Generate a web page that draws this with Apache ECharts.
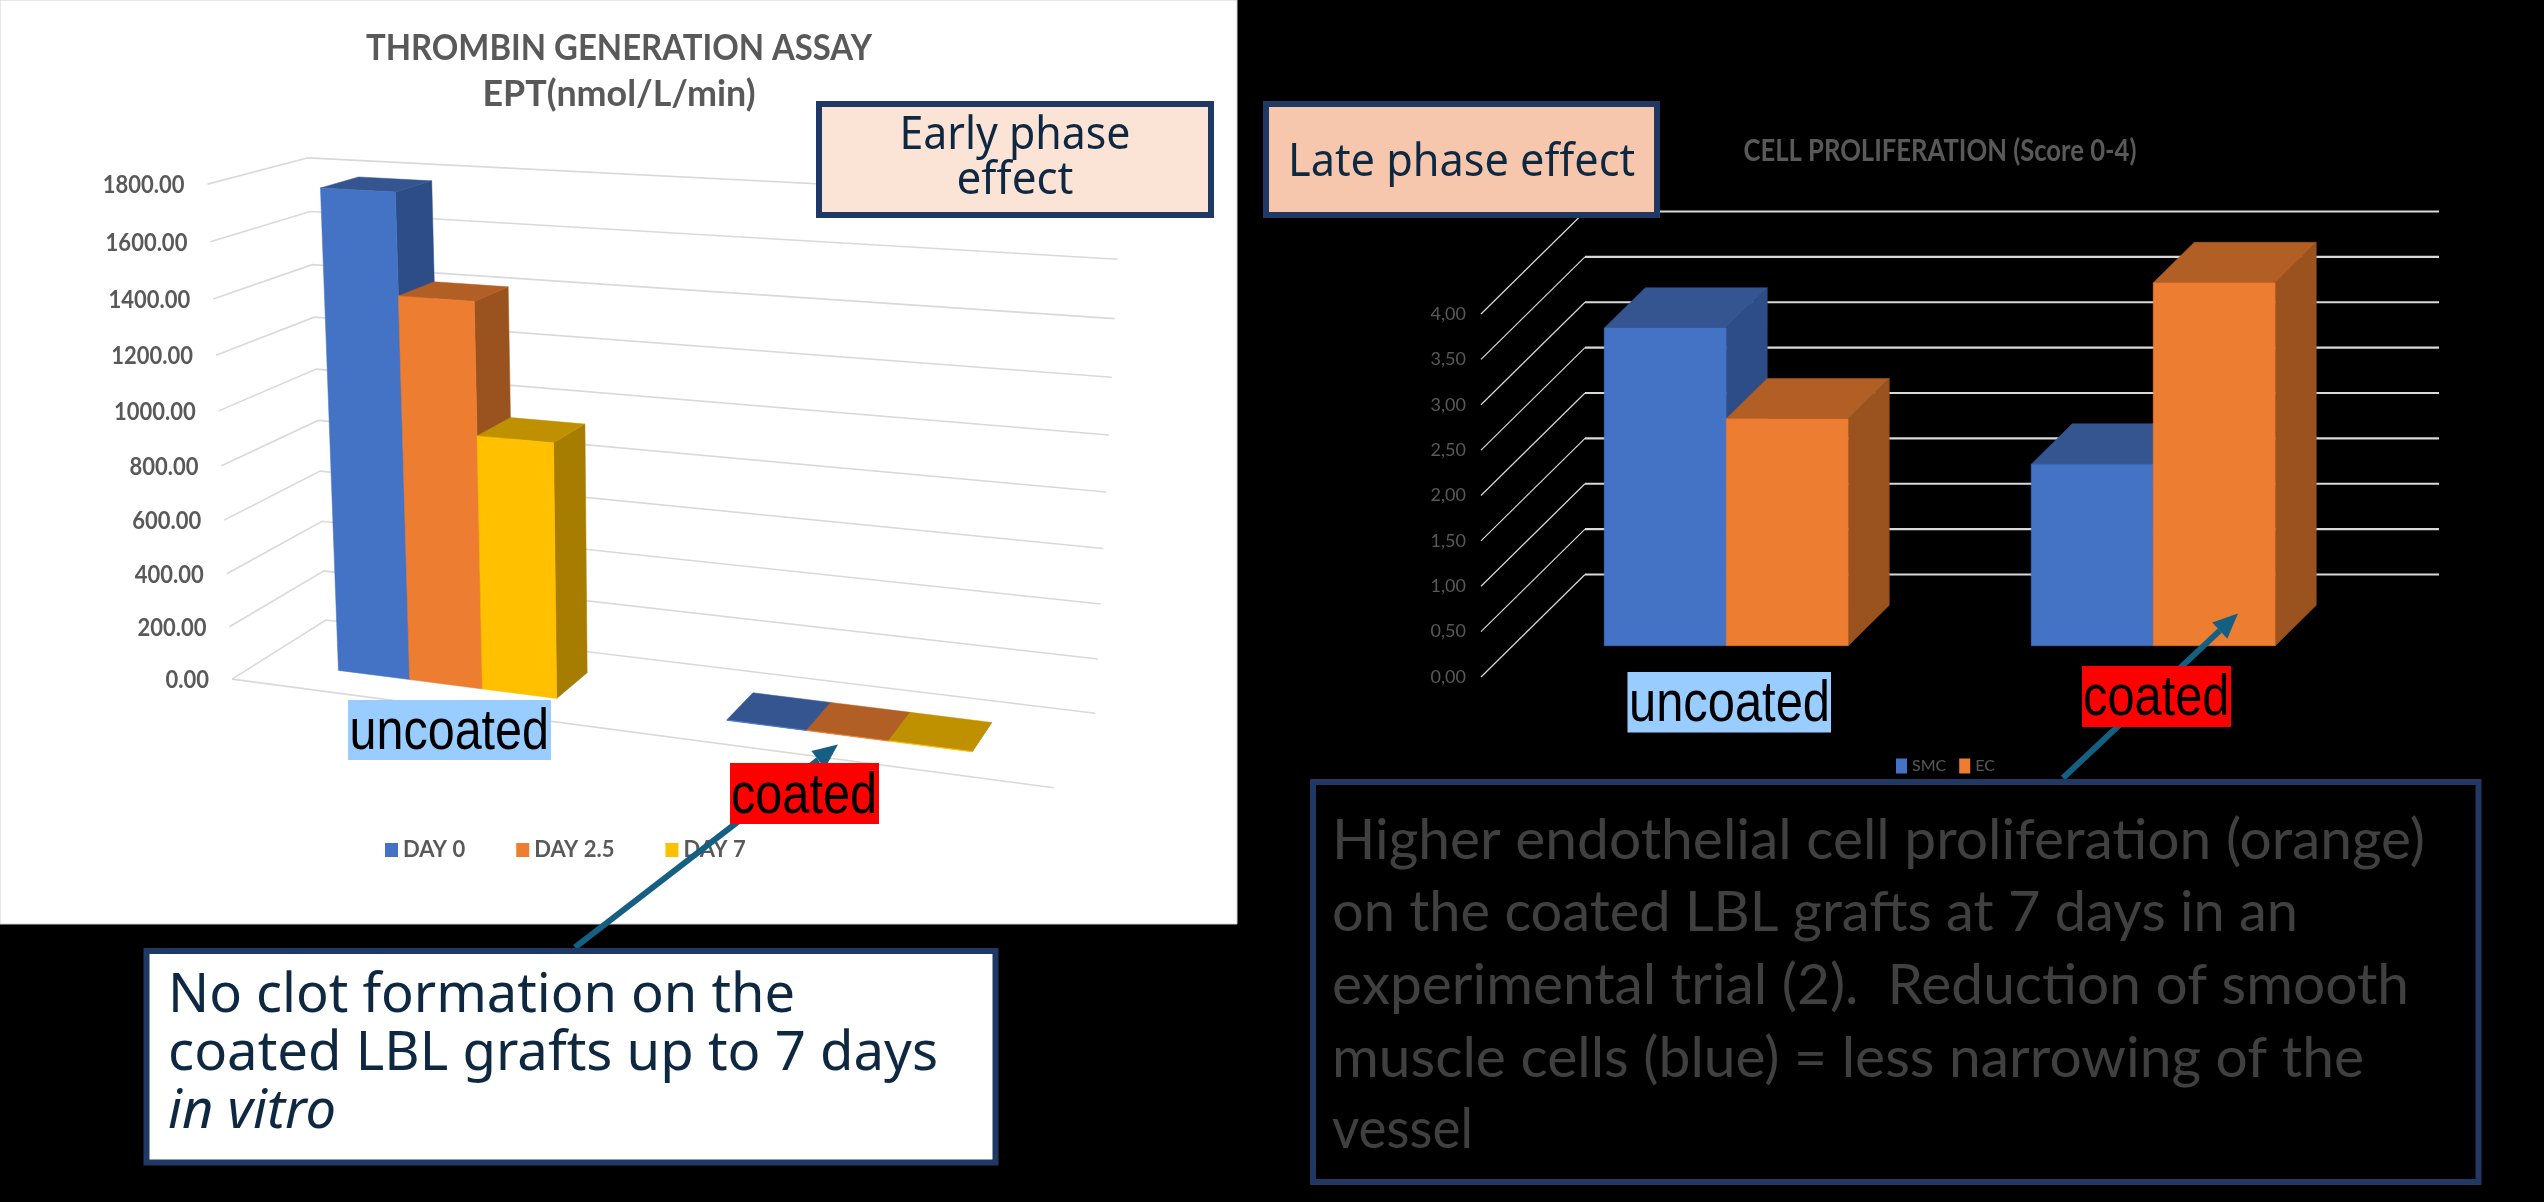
<!DOCTYPE html>
<html><head><meta charset="utf-8"><style>html,body{margin:0;padding:0;background:#000}#c{width:2544px;height:1202px}</style>
<script src="https://cdn.jsdelivr.net/npm/echarts@6/dist/echarts.min.js"></script></head><body><div id="c"></div>
<script>
const categories=['uncoated','coated'];
const day0=[1773,2];
const day25=[1411,2];
const day7=[935,2];
const dayNames=['DAY 0','DAY 2.5','DAY 7'];
const leftTicks=[0,200,400,600,800,1000,1200,1400,1600,1800];
const smc=[3.5,2.0];
const ec=[2.5,4.0];
const cellNames=['SMC','EC'];
const rightTicks=[0,0.5,1,1.5,2,2.5,3,3.5,4];

// ---- projection of the left chart, calibrated on its box corners
const calib=[[0,0,0,232,678.8],[0,1,0,207.5,184.4],[0,0,1,326,620.3],[0,1,1,308.2,157.6],[1,0,1,1095,713.5],[1,1,1,1120.6,199.3],[1,0,0,1054,787.7],[0,.5556,0,218.6,411],[0,.5556,1,316.1,368.9],[1,.5556,1,1108.7,434.8]];
function solve(A,b){const n=b.length;for(let i=0;i<n;i++){let p=i;for(let r=i+1;r<n;r++)if(Math.abs(A[r][i])>Math.abs(A[p][i]))p=r;[A[i],A[p]]=[A[p],A[i]];[b[i],b[p]]=[b[p],b[i]];for(let r=i+1;r<n;r++){const f=A[r][i]/A[i][i];for(let c=i;c<n;c++)A[r][c]-=f*A[i][c];b[r]-=f*b[i];}}const x=Array(n).fill(0);for(let i=n-1;i>=0;i--){let s=b[i];for(let c=i+1;c<n;c++)s-=A[i][c]*x[c];x[i]=s/A[i][i];}return x;}
const M=(function(){const rows=[],rhs=[];calib.forEach(([U,V,W,x,y])=>{x/=1000;y/=1000;rows.push([U,V,W,1,0,0,0,0,-x*U,-x*V,-x*W]);rhs.push(x);rows.push([0,0,0,0,U,V,W,1,-y*U,-y*V,-y*W]);rhs.push(y);});const A=[],b=[];for(let i=0;i<11;i++){A.push(Array(11).fill(0));b.push(0);for(let j=0;j<11;j++)rows.forEach(r=>A[i][j]+=r[i]*r[j]);rows.forEach((r,k)=>b[i]+=r[i]*rhs[k]);}return solve(A,b);})();
function projL(u,v,w){const d=M[8]*u+M[9]*v+M[10]*w+1;return [1000*(M[0]*u+M[1]*v+M[2]*w+M[3])/d,1000*(M[4]*u+M[5]*v+M[6]*w+M[7])/d];}
function projR(u,v,w){return [1481+854*u+104*w,314+363*(1-v)-102.5*w];}

const GL={left:232,top:184,width:822,height:495};
const GR={left:1481,top:314,width:854,height:363};

function barSeries(name,values,idx,count,cfg){
  return {type:'custom',name,xAxisIndex:cfg.axis,yAxisIndex:cfg.axis,z:5+idx,clip:false,itemStyle:{color:cfg.colors[idx][0]},
    data:values.map((v,i)=>[i,v]),
    renderItem(params,api){
      const c=api.coord([api.value(0),api.value(1)]),band=api.size([1,0])[0],bw=band*cfg.barFrac;
      const g=cfg.grid,v=(g.top+g.height-c[1])/g.height;
      const x0=c[0]+(idx-count/2)*bw-g.left,x1=x0+bw;
      const P=(x,vv,w)=>cfg.proj(x/g.width,vv,w);
      const [a,b]=cfg.depth,col=cfg.colors[idx];
      const poly=(pts,fill)=>({type:'polygon',shape:{points:pts},style:{fill,stroke:fill,lineWidth:.5}});
      return {type:'group',children:[
        poly([P(x1,0,a),P(x1,0,b),P(x1,v,b),P(x1,v,a)],col[2]),
        poly([P(x0,v,a),P(x1,v,a),P(x1,v,b),P(x0,v,b)],col[1]),
        poly([P(x0,0,a),P(x1,0,a),P(x1,v,a),P(x0,v,a)],col[0])
      ]};
    }};
}
const lineCol='#D9D9D9',labCol='#595959';
const coloursL=[['#4472C4','#355591','#2D4D88'],['#ED7D31','#B25F25','#9A521E'],['#FFC000','#BF9000','#A67D00']];
const coloursR=[coloursL[0],coloursL[1]];
const cfgL={axis:0,grid:GL,proj:projL,barFrac:.192,depth:[.3,.7],colors:coloursL};
const cfgR={axis:1,grid:GR,proj:projR,barFrac:1/3.5,depth:[.305,.7],colors:coloursR};

const gridL={type:'custom',name:'gridL',xAxisIndex:0,yAxisIndex:0,z:2,clip:false,silent:true,data:leftTicks.map(t=>[0,t]),
  renderItem(params,api){
    const t=api.value(1),c=api.coord([0,t]),v=(GL.top+GL.height-c[1])/GL.height;
    const f=projL(0,v,0),b=projL(0,v,1),r=projL(1,v,1);
    const kids=[{type:'polyline',shape:{points:[f,b,r]},style:{stroke:lineCol,lineWidth:1.6,fill:null}},
      {type:'text',scaleY:1.1,x:f[0]-23,y:f[1]+1,style:{text:t.toFixed(2),fill:labCol,font:'700 22px Lato',align:'right',verticalAlign:'middle'}}];
    if(t===0)kids.push({type:'line',shape:{x1:f[0],y1:f[1],x2:projL(1,0,0)[0],y2:projL(1,0,0)[1]},style:{stroke:lineCol,lineWidth:1.6}});
    return {type:'group',children:kids};
  }};
const gridR={type:'custom',name:'gridR',xAxisIndex:1,yAxisIndex:1,z:2,clip:false,silent:true,data:rightTicks.map(t=>[0,t]),
  renderItem(params,api){
    const t=api.value(1),c=api.coord([0,t]),v=(GR.top+GR.height-c[1])/GR.height;
    const f=projR(0,v,0),b=projR(0,v,1),r=[2439,b[1]];
    return {type:'group',children:[{type:'line',shape:{x1:f[0],y1:f[1],x2:b[0],y2:b[1]},style:{stroke:lineCol,lineWidth:1.2}},
      {type:'line',shape:{x1:b[0],y1:b[1],x2:r[0],y2:r[1]},style:{stroke:lineCol,lineWidth:2.2}}]};
  }};

// ---- annotations
const mc=document.createElement('canvas').getContext('2d');
function txt(text,x,cy,width,font,fill,align,z){mc.font=font;const sx=width/mc.measureText(text).width;
  return {type:'text',x,y:cy,scaleX:sx,z:z||70,silent:true,style:{text,font,fill,align:align||'left',verticalAlign:'middle'}};}
function box(x0,y0,x1,y1,fill,stroke,lw,z){return {type:'rect',z:z||60,silent:true,shape:{x:x0+(lw||0)/2,y:y0+(lw||0)/2,width:x1-x0-(lw||0),height:y1-y0-(lw||0)},style:{fill,stroke:stroke||null,lineWidth:lw||0}};}
function arrow(x0,y0,x1,y1){const L=Math.hypot(x1-x0,y1-y0),ux=(x1-x0)/L,uy=(y1-y0)/L,bx=x1-ux*25,by=y1-uy*25,h=11;const col='#156082';
  return [{type:'line',z:50,silent:true,shape:{x1:x0,y1:y0,x2:bx,y2:by},style:{stroke:col,lineWidth:6}},
    {type:'polygon',z:50,silent:true,shape:{points:[[x1,y1],[bx-uy*h,by+ux*h],[bx+uy*h,by-ux*h]]},style:{fill:col}}];}
const navy='#0E2841',border='#1F3864';
const sans='"Noto Sans"',arial='"Liberation Sans"';
const graphics=[
  {type:'rect',z:-10,silent:true,shape:{x:0,y:0,width:1237,height:924},style:{fill:'#fff',stroke:'#D0D0D0',lineWidth:1}},
  txt('THROMBIN GENERATION ASSAY',619,48,506,'700 36px Lato','#595959','center',10),
  txt('EPT(nmol/L/min)',619,94,273,'700 36px Lato','#595959','center',10),
  txt('CELL PROLIFERATION (Score 0-4)',1940,151,393,'700 31px Lato','#595959','center',10),
  ...arrow(575,947.4,837.9,744.5),
  ...arrow(2063,778,2238,613.5),
  box(816,101,1214,218,'#FBE3D6',border,6),
  txt('Early phase',1015,136,231,'46px '+sans,navy,'center'),
  txt('effect',1015,181,117,'46px '+sans,navy,'center'),
  box(1263,101,1660,218,'#F6C6AD',border,6),
  txt('Late phase effect',1288,163,347,'46px '+sans,navy),
  box(348,700,551,760,'#99CCFF'),
  txt('uncoated',349.5,733,199.5,'57px '+arial,'#000'),
  box(730,763,879,824,'#FF0000'),
  txt('coated',731,797,146,'57px '+arial,'#000'),
  box(1627.5,672,1831,732.5,'#99CCFF'),
  txt('uncoated',1629,705.5,201,'57px '+arial,'#000'),
  box(2082,666,2231,727,'#FF0000'),
  txt('coated',2083,699.5,146.5,'57px '+arial,'#000'),
  box(143.5,948,998.5,1165.5,'#fff',border,6),
  txt('No clot formation on the',168,996,627,'55px '+sans,navy),
  txt('coated LBL grafts up to 7 days',168,1054,770,'55px '+sans,navy),
  txt('in vitro',168,1112,168,'italic 55px '+sans,navy),
  box(1310,779,2481.5,1185,'#000',border,6),
  txt('Higher endothelial cell proliferation (orange)',1332,841,1093,'56px Lato','#404040'),
  txt('on the coated LBL grafts at 7 days in an',1332,913,966,'56px Lato','#404040'),
  txt('experimental trial (2).  Reduction of smooth',1332,986,1077,'56px Lato','#404040'),
  txt('muscle cells (blue) = less narrowing of the',1332,1059,1032,'56px Lato','#404040'),
  txt('vessel',1332,1130,141,'56px Lato','#404040')
];

const chart=echarts.init(document.getElementById('c'));
chart.setOption({animation:false,backgroundColor:'#000',
  grid:[Object.assign({},GL),Object.assign({},GR)],
  xAxis:[{type:'category',gridIndex:0,data:categories,show:false},{type:'category',gridIndex:1,data:categories,show:false}],
  yAxis:[{type:'value',gridIndex:0,min:0,max:1800,interval:200,show:false},
    {type:'value',gridIndex:1,min:0,max:4,interval:.5,splitLine:{show:false},axisLine:{show:false},axisTick:{show:false},
     axisLabel:{margin:15,color:labCol,fontFamily:'Lato',fontSize:18,formatter:v=>v.toFixed(2).replace('.',',')}}],
  legend:[{data:dayNames,left:385,top:839,padding:0,icon:'rect',itemWidth:13,itemHeight:14,itemGap:51,selectedMode:false,textStyle:{color:labCol,fontFamily:'Lato',fontWeight:700,fontSize:22,padding:[2,0,0,0]}},
    {data:cellNames,left:1896,top:758,padding:0,icon:'rect',itemWidth:11,itemHeight:15,itemGap:13,selectedMode:false,textStyle:{color:labCol,fontFamily:'Lato',fontSize:16}}],
  graphic:{elements:graphics},
  series:[gridL,gridR,
    barSeries(dayNames[0],day0,0,3,cfgL),barSeries(dayNames[1],day25,1,3,cfgL),barSeries(dayNames[2],day7,2,3,cfgL),
    barSeries(cellNames[0],smc,0,2,cfgR),barSeries(cellNames[1],ec,1,2,cfgR)]
});
</script></body></html>
